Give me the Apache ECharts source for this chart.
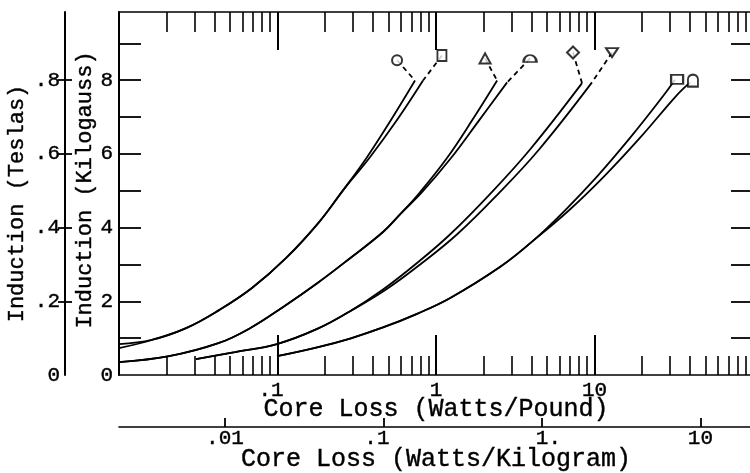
<!DOCTYPE html>
<html>
<head>
<meta charset="utf-8">
<title>Core loss vs induction</title>
<script src="https://cdn.jsdelivr.net/npm/echarts@6.0.0/dist/echarts.min.js"></script>
<style>
  html, body { margin: 0; padding: 0; background: #fff; }
  #chart { width: 750px; height: 473px; }
</style>
</head>
<body>
<div id="chart"></div>
<script>
// core loss (watts/pound) against induction (kilogauss).
// two curves per marker pair, they run together low down and split near the top
const circleCurve = [[0.01, 0.84], [0.0161, 0.95], [0.0265, 1.27], [0.0428, 1.76], [0.069, 2.36], [0.113, 3.17], [0.183, 4.15], [0.259, 5.01], [0.367, 5.91], [0.527, 6.96], [0.737, 7.99]]
const squareCurve = [[0.01, 0.73], [0.0161, 0.95], [0.0265, 1.27], [0.0428, 1.76], [0.069, 2.36], [0.113, 3.17], [0.183, 4.15], [0.259, 5.01], [0.383, 5.91], [0.576, 6.96], [0.828, 7.99]]
const triangleCurve = [[0.01, 0.35], [0.0207, 0.51], [0.0428, 0.87], [0.0671, 1.27], [0.108, 1.84], [0.178, 2.49], [0.287, 3.17], [0.463, 3.88], [0.593, 4.36], [0.793, 4.96], [1.17, 5.88], [1.69, 6.91], [2.43, 7.99]]
const domeCurve = [[0.01, 0.35], [0.0207, 0.51], [0.0428, 0.87], [0.0671, 1.27], [0.108, 1.84], [0.178, 2.49], [0.287, 3.17], [0.463, 3.88], [0.593, 4.36], [0.816, 4.96], [1.24, 5.88], [1.87, 6.91], [2.81, 7.94]]
const diamondCurve = [[0.0306, 0.43], [0.0539, 0.62], [0.0993, 0.84], [0.178, 1.25], [0.287, 1.73], [0.463, 2.32], [0.759, 3.04], [1.23, 3.82], [2.19, 4.91], [3.92, 6.12], [8.34, 7.92]]
const downTriangleCurve = [[0.0306, 0.43], [0.0539, 0.62], [0.0993, 0.84], [0.178, 1.25], [0.287, 1.73], [0.484, 2.32], [0.816, 3.04], [1.36, 3.82], [2.46, 4.91], [4.47, 6.12], [9.64, 7.94]]
const boxCurve = [[0.0993, 0.51], [0.178, 0.75], [0.287, 0.99], [0.463, 1.29], [0.759, 1.66], [1.23, 2.09], [2.53, 2.93], [4.09, 3.64], [6.52, 4.47], [10.4, 5.39], [16.8, 6.44], [27.1, 7.57], [32.2, 8.01]]
const archCurve = [[0.0993, 0.51], [0.178, 0.75], [0.287, 0.99], [0.463, 1.29], [0.759, 1.66], [1.23, 2.09], [2.53, 2.93], [4.09, 3.64], [6.91, 4.47], [11.5, 5.39], [19.4, 6.44], [32.7, 7.57], [40.1, 7.94]]

// where the curve symbols sit (watts/pound, kilogauss)
const circleMark = [0.568, 8.54]
const squareMark = [1.09, 8.67]
const triangleMark = [2.04, 8.59]
const domeMark = [3.92, 8.59]
const diamondMark = [7.32, 8.75]
const downTriangleMark = [12.9, 8.75]
const boxMark = [33.2, 8.02]
const archMark = [41.8, 7.99]

// axes
const lbDecades = [0.01, 0.1, 1, 10]
const lbTickValues = [0.1, 1, 10]
const lbTickLabels = ['{l|.1}', '1', '10']
const kgTickValues = [0.01, 0.1, 1, 10]
const kgTickLabels = ['.01', '{l|.1}', '{r|1.}', '10']
const kgOneHundredthAt = 0.0466 // watts/pound under the '.01' watts/kilogram mark
const kGaussTicks = [1, 2, 3, 4, 5, 6, 7, 8, 9]
const kGaussLabels = [0, 2, 4, 6, 8]
const teslaTicks = [0.2, 0.4, 0.6, 0.8]
const teslaLabels = [0, 0.2, 0.4, 0.6, 0.8]
const kGaussMax = 9.85

const log = Math.log10
const toXY = pts => pts.map(([w, b]) => [log(w), b])

const minorLb = []
lbDecades.forEach(d => {
  for (let m = 2; m <= 9; m++) minorLb.push(log(d * m))
})
const kgShift = -2 - log(kgOneHundredthAt) // log(W/kg) minus log(W/lb) along the lower scale

const FONT = 'Liberation Mono'
const INK = '#000'
const text = (size) => ({ fontFamily: FONT, fontSize: size, color: INK, textBorderColor: INK, textBorderWidth: 0.4 })
const line = (w) => ({ show: true, onZero: false, lineStyle: { color: INK, width: w } })
const noLine = { show: false, onZero: false }
const ticks = (values, length, inside, w) => ({ show: true, inside, length, customValues: values, lineStyle: { color: INK, width: w } })
const noLabel = { show: false }
// labels whose digit, not the dot, sits on the tick
const shifted = {
  l: { ...text(21), padding: [0, 13, 0, 0] },
  r: { ...text(21), padding: [0, 0, 0, 13] }
}

function pickLabel(values, labels, toAxis) {
  return v => {
    const i = values.findIndex(t => Math.abs(toAxis(t) - v) < 1e-6)
    return i < 0 ? '' : labels[i]
  }
}

const xAxis = [
  // bottom frame, minor ticks
  { type: 'value', min: -2, max: 2, position: 'bottom', axisLine: line(1.6), axisTick: ticks(minorLb, 19, true, 1.6), axisLabel: noLabel, splitLine: { show: false } },
  // bottom decades with labels
  {
    type: 'value', min: -2, max: 2, position: 'bottom', axisLine: noLine,
    axisTick: ticks(lbTickValues.map(log), 40, true, 2),
    axisLabel: { show: true, customValues: lbTickValues.map(log), formatter: pickLabel(lbTickValues, lbTickLabels, log), margin: 5, ...text(21), rich: shifted },
    splitLine: { show: false },
    name: 'Core Loss (Watts/Pound)', nameLocation: 'middle', nameGap: 22, nameMoveOverlap: false,
    nameTextStyle: text(25)
  },
  // top frame
  { type: 'value', min: -2, max: 2, position: 'top', axisLine: line(1.6), axisTick: ticks(minorLb, 20, true, 1.6), axisLabel: noLabel, splitLine: { show: false } },
  { type: 'value', min: -2, max: 2, position: 'top', axisLine: noLine, axisTick: ticks(lbTickValues.map(log), 38, true, 2), axisLabel: noLabel, splitLine: { show: false } },
  // watts/kilogram scale below
  {
    type: 'value', min: -2 + kgShift, max: 2 + kgShift, position: 'bottom', offset: 52,
    axisLine: line(1.6),
    axisTick: ticks(kgTickValues.map(log), 9, true, 1.8),
    axisLabel: { show: true, customValues: kgTickValues.map(log), formatter: pickLabel(kgTickValues, kgTickLabels, log), margin: 1, ...text(21), rich: shifted },
    splitLine: { show: false },
    name: 'Core Loss (Watts/Kilogram)', nameLocation: 'middle', nameGap: 20, nameMoveOverlap: false,
    nameTextStyle: text(25)
  }
]

const yAxis = [
  {
    type: 'value', min: 0, max: kGaussMax, position: 'left', axisLine: line(2),
    axisTick: ticks(kGaussTicks, 22, true, 1.8),
    axisLabel: { show: true, customValues: kGaussLabels, margin: 6, ...text(21) },
    splitLine: { show: false },
    name: 'Induction (Kilogauss)', nameLocation: 'middle', nameGap: 23, nameMoveOverlap: false,
    nameTextStyle: { ...text(22), padding: [0, 0, 0, 7] }
  },
  { type: 'value', min: 0, max: kGaussMax, position: 'right', axisLine: line(2), axisTick: ticks(kGaussTicks, 22, true, 1.8), axisLabel: noLabel, splitLine: { show: false } },
  {
    type: 'value', min: 0, max: kGaussMax / 10, position: 'left', offset: 54, axisLine: line(2),
    axisTick: ticks(teslaTicks, 7, false, 1.8),
    axisLabel: { show: true, customValues: teslaLabels, formatter: v => (v === 0 ? '0' : '.' + Math.round(v * 10)), margin: 5, ...text(21) },
    splitLine: { show: false },
    name: 'Induction (Teslas)', nameLocation: 'middle', nameGap: 37, nameMoveOverlap: false,
    nameTextStyle: { ...text(22), padding: [0, 20, 0, 0] }
  },
  { type: 'value', min: 0, max: kGaussMax / 10, position: 'left', offset: 54, axisLine: noLine, axisTick: ticks(teslaTicks, 7, true, 1.8), axisLabel: noLabel, splitLine: { show: false } }
]

const pairs = [
  { curve: circleCurve, mark: circleMark, symbol: 'circle', size: 10, leader: true },
  { curve: squareCurve, mark: squareMark, symbol: 'rect', size: [9, 11], leader: true },
  { curve: triangleCurve, mark: triangleMark, symbol: 'triangle', size: [11, 10], leader: true },
  { curve: domeCurve, mark: domeMark, symbol: 'path://M0,10 A10,10 0 0 1 20,10 Z', size: [13, 7], leader: true },
  { curve: diamondCurve, mark: diamondMark, symbol: 'diamond', size: [12, 12], leader: true },
  { curve: downTriangleCurve, mark: downTriangleMark, symbol: 'path://M0,0 L20,0 L10,16 Z', size: [12, 9], leader: true },
  { curve: boxCurve, mark: boxMark, symbol: 'rect', size: [12, 9], leader: false },
  { curve: archCurve, mark: archMark, symbol: 'path://M0,20 L0,8 A8,8 0 0 1 16,8 L16,20 Z', size: [10, 12], leader: false }
]

const series = []
pairs.forEach(p => {
  series.push({
    type: 'line', data: toXY(p.curve), showSymbol: false, smooth: 0.4,
    lineStyle: { color: INK, width: 1.8 }, z: 2
  })
  if (p.leader) {
    series.push({
      type: 'line', data: toXY([p.mark, p.curve[p.curve.length - 1]]), showSymbol: false,
      lineStyle: { color: INK, width: 1.8, type: [5, 4] }, z: 3
    })
  }
})
series.push({
  type: 'scatter',
  data: pairs.map(p => ({ value: [log(p.mark[0]), p.mark[1]], symbol: p.symbol, symbolSize: p.size })),
  itemStyle: { color: '#fff', borderColor: INK, borderWidth: 2 },
  z: 5
})

const chart = echarts.init(document.getElementById('chart'), null, { renderer: 'canvas' })
chart.setOption({
  animation: false,
  backgroundColor: '#fff',
  grid: { left: 119, right: -3, top: 12, bottom: 98, containLabel: false, outerBoundsMode: 'none' },
  xAxis,
  yAxis,
  series
})
</script>
</body>
</html>
